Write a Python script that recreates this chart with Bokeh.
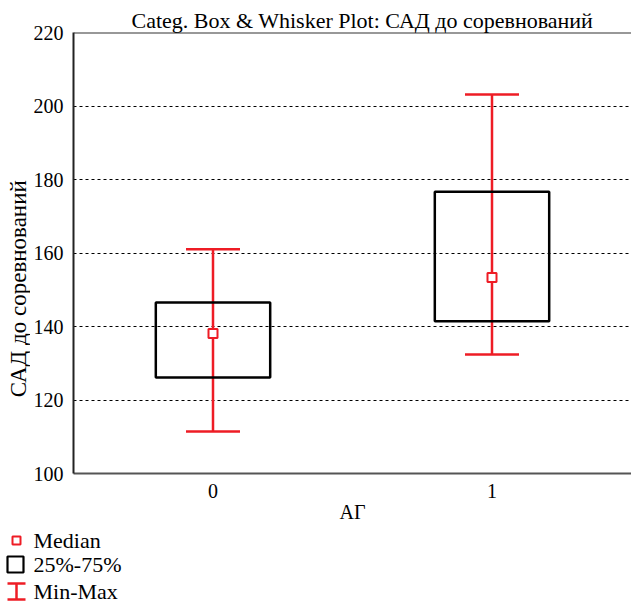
import math
from bokeh.plotting import figure
from bokeh.models import (Range1d, FixedTicker, Whisker, TeeHead, ColumnDataSource, Span)
from bokeh.layouts import column, row
from bokeh.embed import file_html
from bokeh.resources import INLINE
from bokeh.core.properties import value

# data
categories = [0, 1]
tick_labels = ["0", "1"]
q1 = [126.1, 141.4]
q3 = [146.5, 176.7]
medians = [138.1, 153.3]
mins = [111.4, 132.4]
maxs = [161.0, 203.1]

title = "Categ. Box & Whisker Plot: САД до соревнований"
x_label = "АГ"
y_label = "САД до соревнований"
legend_labels = ["Median", "25%-75%", "Min-Max"]

RED = "#ee1c25"
FONT = "Liberation Serif"

src = ColumnDataSource(dict(x=categories, q1=q1, q3=q3, med=medians, lo=mins, hi=maxs))


def bare(w, h):
    f = figure(width=w, height=h, output_backend="svg", toolbar_location=None,
               x_range=Range1d(0, w), y_range=Range1d(0, h),
               x_axis_location=None, y_axis_location=None,
               min_border_left=0, min_border_right=0, min_border_top=0, min_border_bottom=0)
    f.grid.visible = False
    f.outline_line_color = None
    return f


p = figure(width=601, height=525, output_backend="svg", toolbar_location=None,
           x_range=Range1d(-0.5, 1.5), y_range=Range1d(100, 220),
           min_border_left=39, min_border_right=0, min_border_top=32, min_border_bottom=52)
p.outline_line_color = None
p.background_fill_color = "white"
p.border_fill_color = "white"

p.title.text = title
p.title.align = "left"
p.title.offset = 58
p.title.text_font = FONT
p.title.text_font_size = "22px"
p.title.text_font_style = "normal"
p.title.text_color = "black"
p.title.standoff = 0

p.xaxis.ticker = FixedTicker(ticks=categories)
p.xaxis.major_label_overrides = {c: t for c, t in zip(categories, tick_labels)}
p.yaxis.ticker = FixedTicker(ticks=[100, 120, 140, 160, 180, 200, 220])
for ax in (p.xaxis, p.yaxis):
    ax.major_tick_line_color = None
    ax.minor_tick_line_color = None
    ax.major_label_text_font = FONT
    ax.major_label_text_font_size = "20px"
    ax.major_label_text_color = "black"
    ax.axis_label_text_font = FONT
    ax.axis_label_text_font_size = "20px"
    ax.axis_label_text_font_style = "normal"
    ax.axis_label_text_color = "black"
    ax.axis_line_width = 2
p.xaxis.axis_line_color = "#555555"
p.yaxis.axis_line_color = "#222222"
p.xaxis.axis_label = x_label
p.xaxis.major_label_standoff = 4
p.yaxis.major_label_standoff = 4
p.xaxis.axis_label_standoff = 0

p.xgrid.grid_line_color = None
p.ygrid.grid_line_color = "black"
p.ygrid.grid_line_dash = "3 3"
p.ygrid.grid_line_width = 1

p.add_layout(Span(location=220, dimension="width", line_color="#333333", line_width=2))

p.vbar(x="x", width=0.41, bottom="q1", top="q3", source=src,
       fill_color=None, line_color="black", line_width=2.5)

p.add_layout(Whisker(base="x", lower="lo", upper="hi", source=src,
                     line_color=RED, line_width=2.5,
                     upper_head=TeeHead(size=54, line_color=RED, line_width=2.5),
                     lower_head=TeeHead(size=54, line_color=RED, line_width=2.5)))

p.scatter(x="x", y="med", source=src, marker="square", size=9,
          fill_color="white", line_color=RED, line_width=2, level="overlay")

# y-axis title panel (the title sits lower than the frame centre, as in the original)
yl = bare(30, 525)
yl.text(x=[18], y=[220], text=[y_label], angle=math.pi / 2, text_font=value(FONT),
        text_font_size="23px", text_align="center", text_baseline="middle",
        text_color="black")

# legend panel
lg = bare(631, 79)
ys = [64, 40, 13]
lg.scatter(x=[16], y=[ys[0]], marker="square", size=8, fill_color="white",
           line_color=RED, line_width=2)
lg.scatter(x=[15], y=[ys[1]], marker="square", size=16, fill_color="white",
           line_color="black", line_width=2.2)
lg.segment(x0=[16], y0=[ys[2] - 8], x1=[16], y1=[ys[2] + 8], line_color=RED, line_width=2.5)
lg.segment(x0=[7, 7], y0=[ys[2] - 8, ys[2] + 8], x1=[25, 25], y1=[ys[2] - 8, ys[2] + 8],
           line_color=RED, line_width=2.5)
lg.text(x=[33, 33, 33], y=ys, text=legend_labels, text_font=value(FONT),
        text_font_size="22px", text_baseline="middle", text_color="black")

layout = column(row(yl, p, spacing=0), lg, spacing=0)
open("out.html", "w").write(file_html(layout, INLINE))
